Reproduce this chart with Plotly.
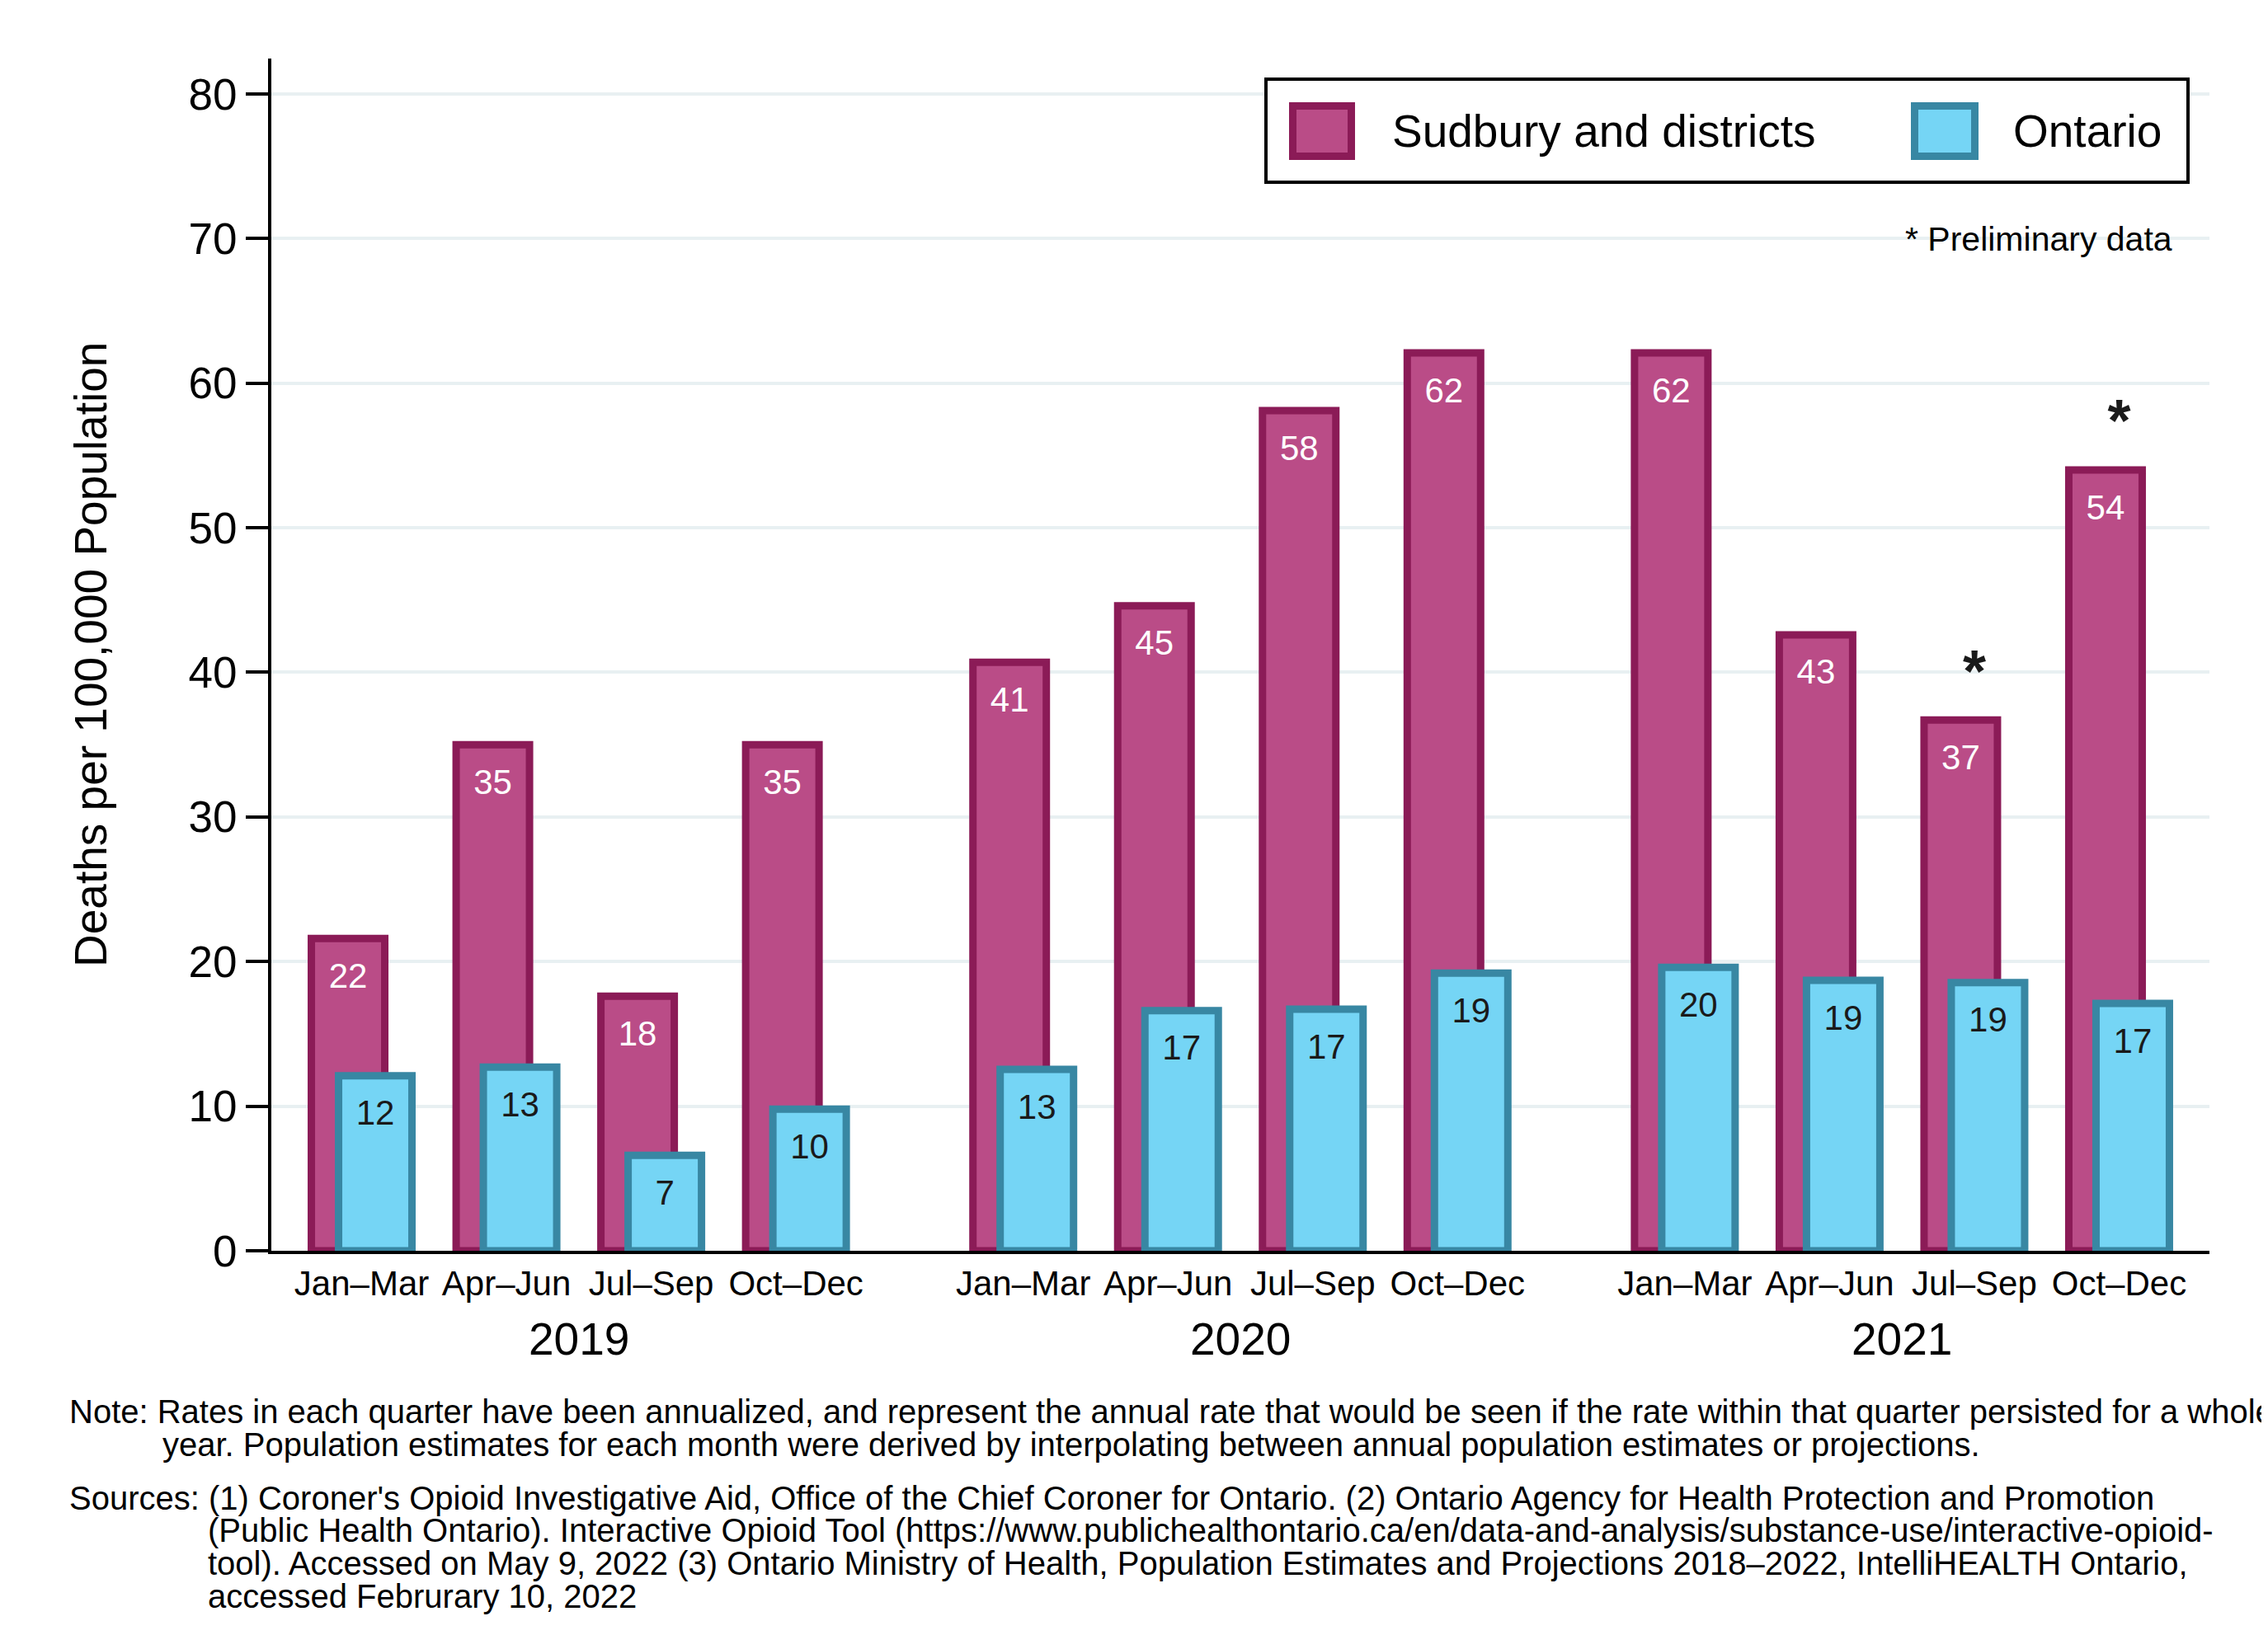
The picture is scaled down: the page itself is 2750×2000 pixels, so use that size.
import plotly.graph_objects as go

# data
years = ["2019", "2020", "2021"]
quarters = ["Jan–Mar", "Apr–Jun", "Jul–Sep", "Oct–Dec"]
sudbury = [21.6, 35.0, 17.6, 35.0, 40.7, 44.6, 58.1, 62.1, 62.1, 42.6, 36.7, 54.0]
ontario = [12.1, 12.7, 6.6, 9.8, 12.55, 16.6, 16.7, 19.2, 19.6, 18.7, 18.55, 17.1]
preliminary = [False] * 10 + [True, True]

FONT = "Arial, Liberation Sans, sans-serif"
SUD_FILL, SUD_LINE = "#BA4C87", "#8B1B57"
ONT_FILL, ONT_LINE = "#75D5F5", "#3887A3"
YEAR_STEP = 4.57   # distance between first quarters of consecutive years
SHIFT = 0.094      # half offset between the two overlapping bars
BAR_W = 0.507

xpos = [yi * YEAR_STEP + qi for yi in range(len(years)) for qi in range(len(quarters))]
ticktext = quarters * len(years)

fig = go.Figure()
fig.add_trace(go.Bar(
	x = [x - SHIFT for x in xpos], y = sudbury, width = BAR_W, name = "Sudbury and districts",
	marker = dict(color = SUD_FILL, line = dict(color = SUD_LINE, width = 9)),
	hoverinfo = "skip"
))
fig.add_trace(go.Bar(
	x = [x + SHIFT for x in xpos], y = ontario, width = BAR_W, name = "Ontario",
	marker = dict(color = ONT_FILL, line = dict(color = ONT_LINE, width = 9)),
	hoverinfo = "skip"
))

# value labels just below the top of each bar
fig.add_trace(go.Scatter(
	x = [x - SHIFT for x in xpos], y = [v - 2.8 for v in sudbury], mode = "text",
	text = [f"{v:.0f}" for v in sudbury], textposition = "middle center",
	textfont = dict(family = FONT, size = 42, color = "white"), hoverinfo = "skip"
))
fig.add_trace(go.Scatter(
	x = [x + SHIFT for x in xpos], y = [v - 2.8 for v in ontario], mode = "text",
	text = [f"{v:.0f}" for v in ontario], textposition = "middle center",
	textfont = dict(family = FONT, size = 42, color = "#1a1a1a"), hoverinfo = "skip"
))

# asterisks over preliminary quarters
fig.add_trace(go.Scatter(
	x = [x for x, p in zip(xpos, preliminary) if p],
	y = [v + 3.0 for v, p in zip(sudbury, preliminary) if p],
	mode = "text", text = ["<b>*</b>" for p in preliminary if p], textposition = "middle center",
	textfont = dict(family = FONT, size = 72, color = "#1a1a1a"), hoverinfo = "skip"
))

# page coordinates of the plot area -> paper fractions
def px_x(p):
	return (p - 329) / 2350

def px_y(p):
	return (1517 - p) / 1446

# year labels under the quarter labels
for yi, yr in enumerate(years):
	fig.add_annotation(
		x = yi * YEAR_STEP + 1.5, xref = "x", y = px_y(1624), yref = "paper",
		text = yr, showarrow = False, font = dict(family = FONT, size = 55, color = "black"),
		xanchor = "center", yanchor = "middle"
	)

# legend drawn by hand so the swatches can be large
fig.add_shape(type = "rect", xref = "paper", yref = "paper",
	x0 = px_x(1535), x1 = px_x(2653), y0 = px_y(96), y1 = px_y(221),
	line = dict(color = "black", width = 4), fillcolor = "white")
for (x0, x1, fill, line, label, tx) in [
	(1567.5, 1638.5, SUD_FILL, SUD_LINE, "Sudbury and districts", 1686),
	(2321.5, 2394.5, ONT_FILL, ONT_LINE, "Ontario", 2439),
]:
	fig.add_shape(type = "rect", xref = "paper", yref = "paper",
		x0 = px_x(x0), x1 = px_x(x1), y0 = px_y(128.5), y1 = px_y(189.5),
		line = dict(color = line, width = 9), fillcolor = fill)
	fig.add_annotation(x = px_x(tx), y = px_y(159), xref = "paper", yref = "paper",
		text = label, showarrow = False, xanchor = "left", yanchor = "middle",
		font = dict(family = FONT, size = 55, color = "black"))

fig.add_annotation(x = px_x(2636), y = px_y(290), xref = "paper", yref = "paper",
	text = "* Preliminary data", showarrow = False, xanchor = "right", yanchor = "middle",
	font = dict(family = FONT, size = 41, color = "black"))

# y axis title
fig.add_annotation(x = px_x(110), y = 0.5, xref = "paper", yref = "paper",
	text = "Deaths per 100,000 Population", textangle = -90, showarrow = False,
	xanchor = "center", yanchor = "middle", font = dict(family = FONT, size = 55, color = "black"))

# notes and sources, one annotation per line
notes = [
	(82, 1712, "Note: Rates in each quarter have been annualized, and represent the annual rate that would be seen if the rate within that quarter persisted for a whole"),
	(195, 1752, "year. Population estimates for each month were derived by interpolating between annual population estimates or projections."),
	(82, 1817, "Sources: (1) Coroner's Opioid Investigative Aid, Office of the Chief Coroner for Ontario. (2) Ontario Agency for Health Protection and Promotion"),
	(250, 1856, "(Public Health Ontario). Interactive Opioid Tool (https://www.publichealthontario.ca/en/data-and-analysis/substance-use/interactive-opioid-"),
	(250, 1896, "tool). Accessed on May 9, 2022 (3) Ontario Ministry of Health, Population Estimates and Projections 2018–2022, IntelliHEALTH Ontario,"),
	(250, 1936, "accessed Februrary 10, 2022"),
]
for nx, ny, line in notes:
	fig.add_annotation(x = px_x(nx), y = px_y(ny), xref = "paper", yref = "paper",
		text = line, showarrow = False, xanchor = "left", yanchor = "middle",
		font = dict(family = FONT, size = 40, color = "black"))

# page has an 8px body margin, so the figure is 8px smaller than the window
fig.update_layout(
	width = 2742, height = 1992,
	margin = dict(l = 321, r = 71, t = 63, b = 483),
	plot_bgcolor = "white", paper_bgcolor = "white",
	barmode = "overlay", showlegend = False,
	font = dict(family = FONT, color = "black"),
	xaxis = dict(
		range = [-0.624, 2 * YEAR_STEP + 3 + 0.624],
		tickvals = xpos, ticktext = ticktext,
		tickfont = dict(size = 42),
		showline = True, linecolor = "black", linewidth = 4,
		showgrid = False, zeroline = False,
		ticks = ""
	),
	yaxis = dict(
		range = [0, 82.45],
		tickvals = list(range(0, 81, 10)),
		tickfont = dict(size = 53),
		showline = True, linecolor = "black", linewidth = 4,
		showgrid = True, gridcolor = "#E8F0F2", gridwidth = 4,
		zeroline = False,
		ticks = "outside", ticklen = 27, tickwidth = 4, tickcolor = "black"
	)
)

fig.write_html("out.html")
